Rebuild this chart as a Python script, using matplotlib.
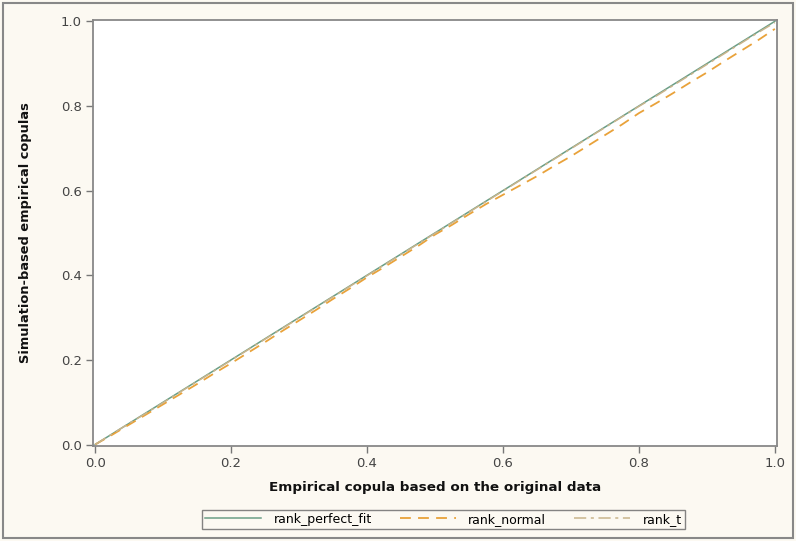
import numpy as np
import matplotlib.pyplot as plt
from matplotlib.patches import Rectangle

# empirical copula grid (original data)
x_emp = [0.000, 0.025, 0.050, 0.075, 0.100, 0.125, 0.150, 0.175, 0.200, 0.225,
         0.250, 0.275, 0.300, 0.325, 0.350, 0.375, 0.400, 0.425, 0.450, 0.475,
         0.500, 0.525, 0.550, 0.575, 0.600, 0.625, 0.650, 0.675, 0.700, 0.725,
         0.750, 0.775, 0.800, 0.825, 0.850, 0.875, 0.900, 0.925, 0.950, 0.975, 1.000]

rank_perfect_fit = x_emp

rank_normal = [0.000, 0.023, 0.047, 0.071, 0.095, 0.119, 0.143, 0.168, 0.192, 0.217,
               0.242, 0.268, 0.293, 0.318, 0.344, 0.369, 0.395, 0.419, 0.444, 0.469,
               0.496, 0.519, 0.544, 0.568, 0.590, 0.612, 0.634, 0.658, 0.681, 0.706,
               0.731, 0.756, 0.783, 0.806, 0.830, 0.855, 0.879, 0.905, 0.930, 0.955, 0.982]

rank_t = [0.000, 0.025, 0.050, 0.074, 0.099, 0.124, 0.149, 0.174, 0.199, 0.224,
          0.249, 0.274, 0.299, 0.324, 0.349, 0.374, 0.399, 0.424, 0.449, 0.474,
          0.499, 0.524, 0.549, 0.574, 0.599, 0.624, 0.649, 0.674, 0.699, 0.724,
          0.749, 0.774, 0.799, 0.823, 0.848, 0.873, 0.898, 0.923, 0.948, 0.973, 0.997]

ticks = [0.0, 0.2, 0.4, 0.6, 0.8, 1.0]

BG = "#fcf9f2"

fig = plt.figure(figsize=(7.96, 5.41), dpi=100, facecolor=BG)
ax = fig.add_axes([0.117, 0.176, 0.859, 0.787])
ax.set_facecolor("white")

ax.plot(x_emp, rank_perfect_fit, color="#6a9e86", lw=1.1, label="rank_perfect_fit")
ax.plot(x_emp, rank_normal, color="#e9a23a", lw=1.3, dashes=(6, 4), label="rank_normal")
ax.plot(x_emp, rank_t, color="#c9b48c", lw=1.1, dashes=(8, 3, 2, 3), label="rank_t")

ax.set_xlim(-0.003, 1.003)
ax.set_ylim(-0.003, 1.003)
ax.set_xticks(ticks)
ax.set_yticks(ticks)
ax.set_xticklabels(["%.1f" % t for t in ticks])
ax.set_yticklabels(["%.1f" % t for t in ticks])
ax.tick_params(direction="out", length=5, width=1, color="#777777",
               labelsize=9.5, labelcolor="#444444", pad=3)
for s in ax.spines.values():
    s.set_color("#888888")
    s.set_linewidth(1.3)

ax.set_xlabel("Empirical copula based on the original data", fontsize=9.7,
              fontweight="bold", color="#111111", labelpad=8)
ax.set_ylabel("Simulation-based empirical copulas", fontsize=9.4,
              fontweight="bold", color="#111111", labelpad=21)

leg = fig.legend(loc="center", bbox_to_anchor=(0.557, 0.040), ncol=3,
                 fontsize=9, frameon=True, fancybox=False, handlelength=4.5,
                 columnspacing=2.2, handletextpad=1.0, borderpad=0.25)
leg.get_frame().set_edgecolor("#666666")
leg.get_frame().set_linewidth(1.0)
leg.get_frame().set_facecolor(BG)

# outer border of the graph
fig.patches.append(Rectangle((0.004, 0.006), 0.992, 0.988, transform=fig.transFigure,
                             fill=False, edgecolor="#888888", lw=1.5))

fig.savefig("out.png", dpi=100, facecolor=BG)
